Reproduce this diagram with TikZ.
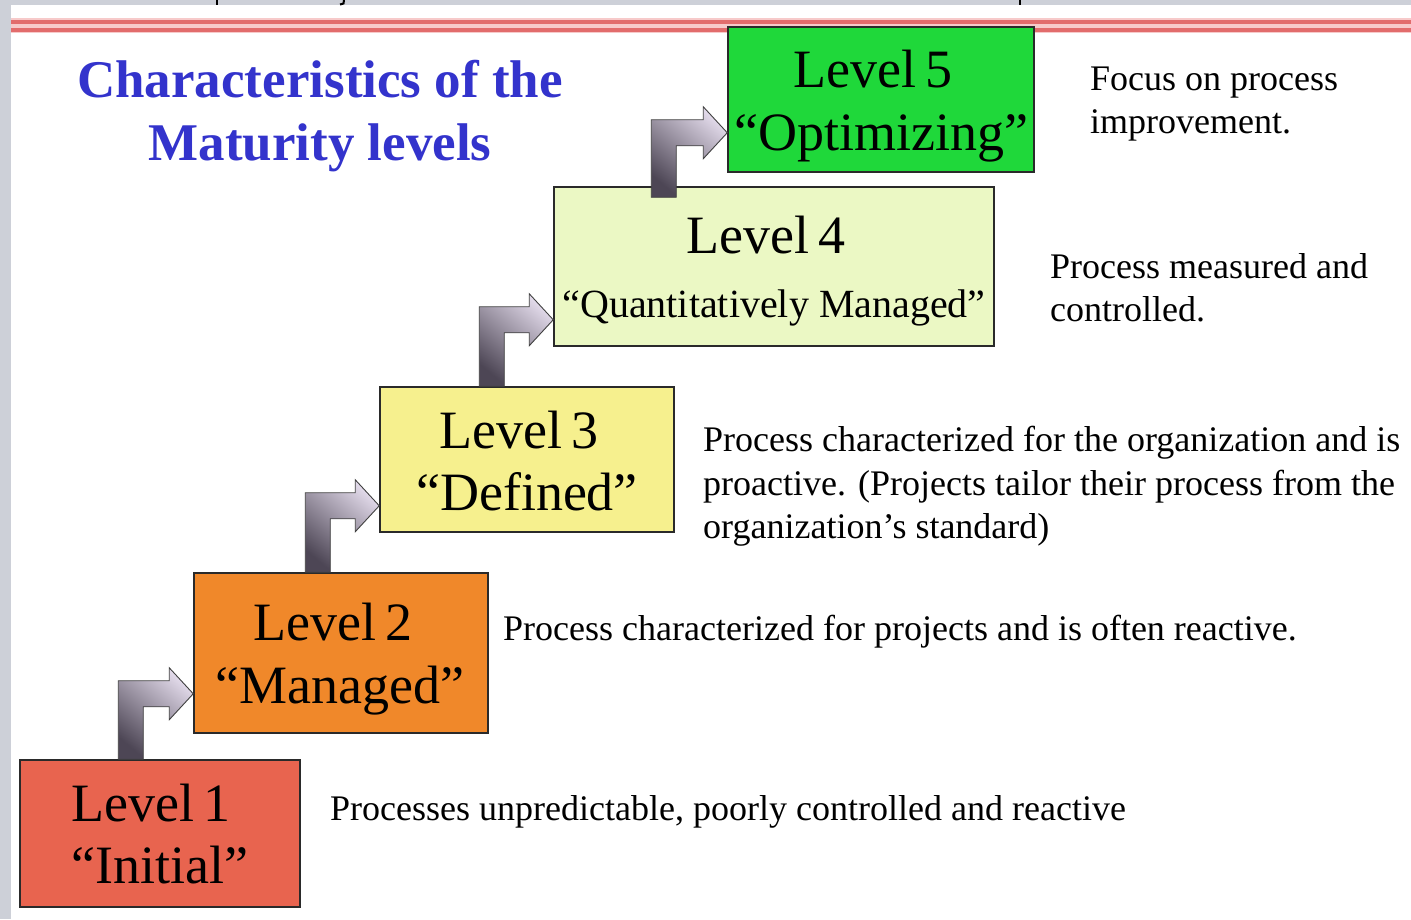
\documentclass[tikz,border=0pt]{standalone}
\usepackage{fontspec}
\setmainfont{Liberation Serif}
\usetikzlibrary{calc}
\definecolor{bggray}{HTML}{CDD0D8}
\definecolor{pinkband}{HTML}{F7CACA}
\definecolor{redline}{HTML}{E26C6C}
\definecolor{lonecol}{HTML}{E8644F}
\definecolor{ltwocol}{HTML}{F0882A}
\definecolor{lthreecol}{HTML}{F6F08E}
\definecolor{lfourcol}{HTML}{EBF8C4}
\definecolor{lfivecol}{HTML}{1FD83A}
\definecolor{titleblue}{HTML}{3333CC}
\definecolor{boxline}{HTML}{2A2A2A}
\definecolor{arrowdark}{HTML}{4D4655}
\definecolor{arrowlight}{HTML}{E2DAEA}
\newcommand\stairarrow[5]{%
  \path[stairshape] let \p1=(#1.north west), \p2=(#2.south west) in
    (\x1+#3pt, \y1-#5pt) -- (\x1+#3pt, \y2+#4pt+13pt) -- (\x2-24pt, \y2+#4pt+13pt)
    -- (\x2-24pt, \y2+#4pt+26pt) -- (\x2, \y2+#4pt) -- (\x2-24pt, \y2+#4pt-26pt)
    -- (\x2-24pt, \y2+#4pt-13pt) -- (\x1+#3pt+25pt, \y2+#4pt-13pt)
    -- (\x1+#3pt+25pt, \y1-#5pt) -- cycle;
}
\tikzset{
  levelbox/.style={draw=boxline, line width=1.5pt, inner sep=0pt},
  lvltext/.style={font=\fontsize{54}{60}\selectfont, anchor=base, inner sep=0pt, text=black},
  desctext/.style={font=\fontsize{36}{43}\selectfont, anchor=base west, inner sep=0pt, text=black},
  titletext/.style={font=\fontsize{53}{63}\selectfont\bfseries, anchor=base, inner sep=0pt, text=titleblue},
  stairshape/.style={draw=black!75, line width=0.9pt, bottom color=arrowdark, top color=arrowlight, shading angle=-40},
}
\begin{document}
\begin{tikzpicture}[x=1pt,y=-1pt]
\useasboundingbox (0,0) rectangle (1411,919);
% background
\fill[white] (0,0) rectangle (1411,919);
\fill[bggray] (0,0) rectangle (11,919);
\fill[bggray] (0,0) rectangle (1411,5);
\draw[black, line width=2pt] (217,0) -- (217,4.5);
\draw[black, line width=2pt] (344,0) -- (343.5,3.5) -- (340,4.5);
\draw[black, line width=2pt] (1020,0) -- (1020,4.5);
\fill[pinkband] (11,18) rectangle (1411,33);
\fill[redline] (11,20.3) rectangle (1411,23.6);
\fill[redline] (11,28.2) rectangle (1411,31.6);

% title
\node[titletext] (T1) at (320,97) {Characteristics of the};
\node[titletext] (T2) at (320,160) {Maturity levels};

% level boxes
\node[levelbox, fill=lonecol, minimum width=280pt, minimum height=147pt] (L1) at (160,833.5) {};
\node[levelbox, fill=ltwocol, minimum width=294pt, minimum height=160pt] (L2) at (341,653) {};
\node[levelbox, fill=lthreecol, minimum width=294pt, minimum height=145pt] (L3) at (527,459.5) {};
\node[levelbox, fill=lfourcol, minimum width=440pt, minimum height=159pt] (L4) at (774,266.5) {};
\node[levelbox, fill=lfivecol, minimum width=306pt, minimum height=145pt] (L5) at (881,99.5) {};

% level texts
\node[lvltext] (L1a) at (151,821) {Level\kern0.16em 1};
\node[lvltext] (L1b) at (160,883) {“Initial”};
\node[lvltext] (L2a) at (333,640) {Level\kern0.16em 2};
\node[lvltext] (L2b) at (340,703) {“Managed”};
\node[lvltext] (L3a) at (519,448) {Level\kern0.16em 3};
\node[lvltext] (L3b) at (527,510) {“Defined”};
\node[lvltext] (L4a) at (766,253) {Level\kern0.16em 4};
\node[lvltext, font=\fontsize{40}{48}\selectfont] (L4b) at (774,317) {“Quantitatively Managed”};
\node[lvltext] (L5a) at (873,87) {Level\kern0.16em 5};
\node[lvltext] (L5b) at (881,150) {“Optimizing”};

% arrows
\stairarrow{L1}{L2}{99}{40}{0}
\stairarrow{L2}{L3}{112}{27}{0}
\stairarrow{L3}{L4}{100}{27}{0}
\stairarrow{L4}{L5}{98}{40}{11}

% descriptions
\node[desctext] (D5a) at (1090,90) {Focus on process};
\node[desctext] (D5b) at (1090,133) {improvement.};
\node[desctext] (D4a) at (1050,278) {Process measured and};
\node[desctext] (D4b) at (1050,321) {controlled.};
\node[desctext] (D3a) at (703,451) {Process characterized for the organization and is};
\node[desctext] (D3b) at (703,495) {proactive. (Projects tailor their process from the};
\node[desctext] (D3c) at (703,538) {organization’s standard)};
\node[desctext] (D2a) at (503,640) {Process characterized for projects and is often reactive.};
\node[desctext] (D1a) at (330,820) {Processes unpredictable, poorly controlled and reactive};
\end{tikzpicture}
\end{document}
